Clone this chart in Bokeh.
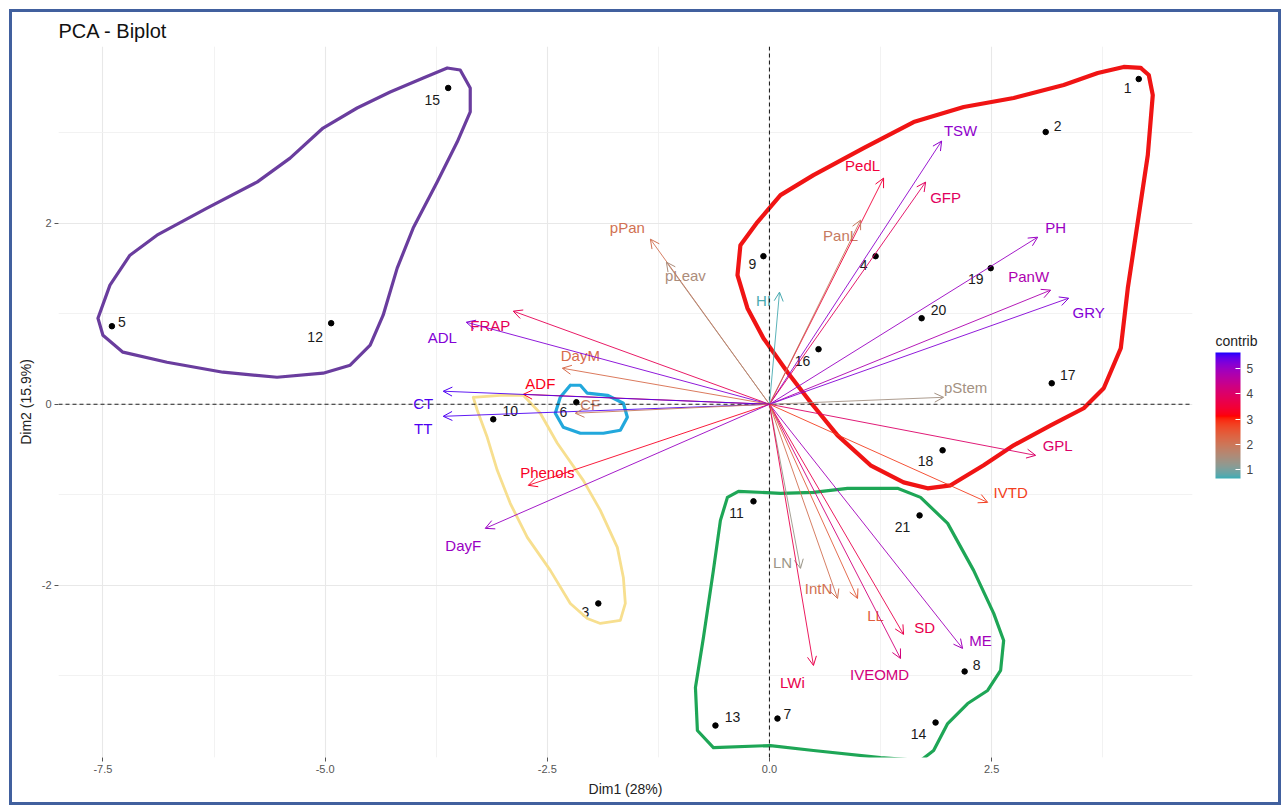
import math
from bokeh.plotting import figure
from bokeh.layouts import column
from bokeh.models import (ColumnDataSource, Arrow, OpenHead, LinearColorMapper, ColorBar,
                          FixedTicker, Span)
from bokeh.transform import transform
from bokeh.core.properties import value
from bokeh.embed import file_html
from bokeh.resources import INLINE

# ---------------- data ----------------
ind_labels = [str(i) for i in range(1, 22)]
ind_dim1 = [4.155, 3.108, -1.926, 1.194, -7.399, -2.173, 0.090, 2.196, -0.068, -3.108, -0.180,
            -4.932, -0.608, 1.869, -3.615, 0.552, 3.176, 1.948, 2.489, 1.712, 1.689]
ind_dim2 = [3.591, 3.006, -2.199, 1.635, 0.862, 0.022, -3.470, -2.950, 1.635, -0.166, -1.072,
            0.895, -3.547, -3.514, 3.492, 0.608, 0.232, -0.508, 1.503, 0.950, -1.227]

var_names = ["TSW", "PedL", "GFP", "PanL", "PH", "PanW", "GRY", "pStem", "GPL", "IVTD", "ME",
             "SD", "IVEOMD", "LL", "IntN", "LN", "LWi", "HI", "pPan", "pLeav", "FRAP", "ADL",
             "DayM", "ADF", "CT", "TT", "CF", "Phenols", "DayF"]
var_dim1 = [1.937, 1.284, 1.757, 1.025, 3.018, 3.164, 3.367, 1.959, 2.995, 2.455, 2.173,
            1.509, 1.475, 0.991, 0.766, 0.349, 0.495, 0.113, -1.340, -1.160, -2.883, -3.412,
            -2.331, -2.770, -3.671, -3.671, -2.185, -2.714, -3.198]
var_dim2 = [2.906, 2.497, 2.453, 2.033, 1.845, 1.260, 1.171, 0.077, -0.564, -1.083, -2.696,
            -2.541, -2.807, -2.144, -2.144, -1.812, -2.884, 1.238, 1.823, 1.569, 1.028, 0.906,
            0.398, 0.110, 0.144, -0.133, -0.099, -0.895, -1.370]
var_contrib = [5.1, 3.5, 3.9, 1.9, 5.0, 4.8, 5.2, 1.4, 4.0, 2.8, 4.9,
               3.7, 4.2, 2.4, 2.1, 1.3, 3.7, 0.7, 2.1, 1.5, 3.8, 5.2,
               2.2, 3.2, 5.5, 5.5, 1.9, 3.3, 5.0]

x_ticks = [-7.5, -5.0, -2.5, 0.0, 2.5]
x_tick_labels = ["-7.5", "-5.0", "-2.5", "0.0", "2.5"]
x_minor = [-6.25, -3.75, -1.25, 1.25, 3.75]
y_ticks = [-2, 0, 2]
y_tick_labels = ["-2", "0", "2"]
y_minor = [-3, -1, 1, 3]
contrib_ticks = [1, 2, 3, 4, 5]
contrib_low, contrib_mid, contrib_high = 0.64, 3.1, 5.64

# hand-drawn cluster outlines (data coordinates)
purple_x = [-7.556, -7.421, -7.196, -6.892, -6.329, -5.766, -5.394, -5.023, -4.640, -4.268, -3.896,
            -3.626, -3.480, -3.367, -3.367, -3.514, -3.739, -4.009, -4.189, -4.347, -4.493, -4.718,
            -5.023, -5.541, -6.149, -6.779, -7.275, -7.500]
purple_y = [0.950, 1.315, 1.646, 1.867, 2.166, 2.453, 2.718, 3.050, 3.271, 3.448, 3.602,
            3.713, 3.691, 3.492, 3.227, 2.895, 2.453, 1.945, 1.503, 0.983, 0.652, 0.431,
            0.343, 0.298, 0.354, 0.464, 0.575, 0.762]
red_x = [4.178, 4.268, 4.313, 4.257, 4.144, 4.032, 3.953, 3.761, 3.536, 3.164, 2.748, 2.410,
         2.038, 1.779, 1.509, 1.137, 0.766, 0.462, 0.203, -0.068, -0.248, -0.360, -0.327, -0.135,
         0.124, 0.495, 1.059, 1.622, 2.185, 2.748, 3.311, 3.694, 3.986]
red_y = [3.713, 3.635, 3.414, 2.751, 2.011, 1.282, 0.619, 0.177, -0.044, -0.232, -0.453, -0.674,
         -0.895, -0.928, -0.862, -0.674, -0.343, 0.022, 0.354, 0.729, 1.061, 1.425, 1.757, 2.011,
         2.309, 2.530, 2.829, 3.116, 3.282, 3.381, 3.525, 3.657, 3.724]
yellow_x = [-3.333, -3.029, -2.770, -2.579, -2.387, -2.095, -1.903, -1.712, -1.644, -1.622,
            -1.678, -1.903, -2.050, -2.241, -2.466, -2.725, -2.917, -3.063, -3.176, -3.288]
yellow_y = [0.077, 0.099, 0.099, -0.099, -0.431, -0.840, -1.171, -1.580, -1.912, -2.199,
            -2.387, -2.420, -2.365, -2.199, -1.834, -1.470, -1.094, -0.729, -0.365, -0.066]
cyan_x = [-2.241, -2.128, -2.050, -1.824, -1.644, -1.599, -1.678, -1.869, -2.128, -2.320,
          -2.410, -2.354]
cyan_y = [0.210, 0.210, 0.122, 0.099, 0.011, -0.144, -0.287, -0.320, -0.320, -0.254,
          -0.099, 0.077]
green_x = [-0.473, -0.349, 0.124, 0.495, 0.878, 1.441, 1.700, 2.005, 2.297, 2.523, 2.635, 2.601,
           2.455, 2.230, 2.005, 1.847, 1.700, 1.250, 0.495, 0.011, -0.631, -0.811, -0.833,
           -0.743, -0.631, -0.552]
green_y = [-1.028, -0.961, -0.983, -0.972, -0.928, -0.928, -1.028, -1.315, -1.834, -2.309,
           -2.608, -2.939, -3.160, -3.304, -3.525, -3.823, -3.934, -3.901, -3.823, -3.768,
           -3.790, -3.602, -3.127, -2.575, -1.834, -1.282]

# ---------------- layout / style (label nudges in screen pixels) ----------------
IND_OFF = {"1": (-11, 9), "2": (12, -6), "3": (-13, 9), "4": (-12, 9), "5": (10, -4),
           "6": (-13, 10), "7": (10, -5), "8": (12, -6), "9": (-11, 8), "10": (17, -8),
           "11": (-17, 12), "12": (-16, 14), "13": (17, -9), "14": (-17, 11), "15": (-16, 12),
           "16": (-16, 12), "17": (16, -8), "18": (-17, 11), "19": (-15, 11), "20": (17, -8),
           "21": (-17, 12)}
VAR_OFF = {"TSW": (19, -11), "PedL": (-21, -13), "GFP": (20, 15), "PanL": (-20, 15),
           "PH": (18, -10), "PanW": (-22, -14), "GRY": (20, 14), "pStem": (22, -10),
           "GPL": (22, -10), "IVTD": (23, -10), "ME": (18, -8), "SD": (21, -7),
           "IVEOMD": (-21, 16), "LL": (18, 17), "IntN": (-19, -10), "LN": (-18, -6),
           "LWi": (-21, 17), "HI": (-16, 8), "pPan": (-23, -12), "pLeav": (19, 13),
           "FRAP": (-23, 14), "ADL": (-24, 15), "DayM": (18, -13), "ADF": (17, -11),
           "CT": (-20, 12), "TT": (-20, 12), "CF": (15, -9), "Phenols": (19, -13),
           "DayF": (-22, 17)}
FONT = "Liberation Sans"


# gradient2-like palette (teal -> red -> blue) interpolated in CIE Lab
def _to_lin(c):
    c = c / 255.0
    return c / 12.92 if c <= 0.04045 else ((c + 0.055) / 1.055) ** 2.4


def _from_lin(c):
    c = 12.92 * c if c <= 0.0031308 else 1.055 * c ** (1 / 2.4) - 0.055
    return max(0, min(255, round(c * 255)))


def hex_to_lab(h):
    r, g, b = (_to_lin(int(h[i:i + 2], 16)) for i in (1, 3, 5))
    X = (0.4124 * r + 0.3576 * g + 0.1805 * b) / 0.95047
    Y = (0.2126 * r + 0.7152 * g + 0.0722 * b)
    Z = (0.0193 * r + 0.1192 * g + 0.9505 * b) / 1.08883
    f = lambda t: t ** (1 / 3) if t > 0.008856 else 7.787 * t + 16 / 116
    fx, fy, fz = f(X), f(Y), f(Z)
    return (116 * fy - 16, 500 * (fx - fy), 200 * (fy - fz))


def lab_to_hex(L, a, b):
    fy = (L + 16) / 116
    fx = fy + a / 500
    fz = fy - b / 200
    inv = lambda t: t ** 3 if t ** 3 > 0.008856 else (t - 16 / 116) / 7.787
    X, Y, Z = inv(fx) * 0.95047, inv(fy), inv(fz) * 1.08883
    r = 3.2406 * X - 1.5372 * Y - 0.4986 * Z
    g = -0.9689 * X + 1.8758 * Y + 0.0415 * Z
    bb = 0.0557 * X - 0.2040 * Y + 1.0570 * Z
    return "#%02x%02x%02x" % tuple(_from_lin(max(0.0, v)) for v in (r, g, bb))


LOW, MID, HIGH = hex_to_lab("#00AFBB"), hex_to_lab("#FF0000"), hex_to_lab("#0000FF")
maxd = max(contrib_mid - contrib_low, contrib_high - contrib_mid)
palette = []
N = 256
for i in range(N):
    v = contrib_low + (contrib_high - contrib_low) * i / (N - 1)
    t = 0.5 + (v - contrib_mid) / (2 * maxd)
    if t <= 0.5:
        u = t / 0.5
        c = [LOW[k] + (MID[k] - LOW[k]) * u for k in range(3)]
    else:
        u = (t - 0.5) / 0.5
        c = [MID[k] + (HIGH[k] - MID[k]) * u for k in range(3)]
    palette.append(lab_to_hex(*c))

mapper = LinearColorMapper(palette=palette, low=contrib_low, high=contrib_high)

# ---------------- figure ----------------
p = figure(width=1266, height=790, x_range=(-8.0, 4.76), y_range=(-3.90, 3.95),
           output_backend="svg", toolbar_location=None,
           min_border_left=46, min_border_right=86, min_border_top=34, min_border_bottom=45,
           background_fill_color="white", border_fill_color="white")
p.outline_line_color = None

p.title.text = "PCA - Biplot"
p.title.text_font = FONT
p.title.text_font_size = "20px"
p.title.text_font_style = "normal"
p.title.text_color = "#111111"
p.title.align = "left"
p.title.offset = 0
p.title.standoff = 9

p.xaxis.ticker = FixedTicker(ticks=x_ticks, minor_ticks=x_minor)
p.yaxis.ticker = FixedTicker(ticks=y_ticks, minor_ticks=y_minor)
p.xaxis.major_label_overrides = {t: l for t, l in zip(x_ticks, x_tick_labels)}
p.yaxis.major_label_overrides = {t: l for t, l in zip(y_ticks, y_tick_labels)}
p.xaxis.axis_label = "Dim1 (28%)"
p.yaxis.axis_label = "Dim2 (15.9%)"
for ax in (p.xaxis, p.yaxis):
    ax.axis_line_color = None
    ax.major_tick_line_color = "#555555"
    ax.major_tick_out = 4
    ax.major_tick_in = 0
    ax.minor_tick_line_color = None
    ax.major_label_text_font = FONT
    ax.major_label_text_font_size = "11px"
    ax.major_label_text_color = "#555555"
    ax.major_label_standoff = 3
    ax.axis_label_text_font = FONT
    ax.axis_label_text_font_size = "14px"
    ax.axis_label_text_font_style = "normal"
    ax.axis_label_text_color = "#222222"
    ax.axis_label_standoff = 5

for g in (p.xgrid, p.ygrid):
    g.grid_line_color = "#e8e8e8"
    g.grid_line_width = 1.1
    g.minor_grid_line_color = "#f0f0f0"
    g.minor_grid_line_width = 0.9

p.add_layout(Span(location=0, dimension="height", line_color="#222222",
                  line_dash="4 3", line_width=1.1))
p.add_layout(Span(location=0, dimension="width", line_color="#222222",
                  line_dash="4 3", line_width=1.1))

# variable arrows
var_src = ColumnDataSource(dict(
    x=var_dim1, y=var_dim2, name=var_names, contrib=var_contrib,
    dx=[VAR_OFF[n][0] for n in var_names], dy=[VAR_OFF[n][1] for n in var_names]))
p.add_layout(Arrow(source=var_src, x_start=0, y_start=0, x_end="x", y_end="y",
                   line_color=transform("contrib", mapper), line_width=0.9,
                   end=OpenHead(size=9, line_width=1.0,
                                line_color=transform("contrib", mapper))))
p.text(x="x", y="y", text="name", source=var_src, x_offset="dx", y_offset="dy",
       text_color=transform("contrib", mapper), text_font=value(FONT),
       text_font_size="15px", text_align="center", text_baseline="middle")

# individuals
ind_src = ColumnDataSource(dict(
    x=ind_dim1, y=ind_dim2, name=ind_labels,
    dx=[IND_OFF[n][0] for n in ind_labels], dy=[IND_OFF[n][1] for n in ind_labels]))
p.scatter(x="x", y="y", source=ind_src, size=5.5, color="black")
p.text(x="x", y="y", text="name", source=ind_src, x_offset="dx", y_offset="dy",
       text_color="#1a1a1a", text_font=value(FONT), text_font_size="14px",
       text_align="center", text_baseline="middle")

# hand-drawn cluster outlines
for xs, ys, col, w in [(purple_x, purple_y, "#6a3d9e", 3.2),
                       (red_x, red_y, "#f01414", 4.2),
                       (yellow_x, yellow_y, "#f7df8f", 2.8),
                       (cyan_x, cyan_y, "#22a8dc", 3.2),
                       (green_x, green_y, "#1ea656", 3.2)]:
    p.line(xs + xs[:1], ys + ys[:1], line_color=col, line_width=w,
           line_join="round", line_cap="round")

# colour bar (placed just right of the panel)
cb = ColorBar(color_mapper=mapper, ticker=FixedTicker(ticks=contrib_ticks),
              orientation="vertical", width=25, height=126, title=None,
              major_label_text_font=FONT, major_label_text_font_size="12px",
              major_label_text_color="#444444", major_tick_line_color="white",
              major_tick_in=5, major_tick_out=0, bar_line_color=None,
              border_line_color=None, background_fill_alpha=0,
              padding=0, margin=0, location=(1157, 279), label_standoff=6)
p.add_layout(cb, "center")

# horizontal legend title "contrib" (carried by a transparent horizontal colour bar)
cb_title = ColorBar(color_mapper=mapper, ticker=FixedTicker(ticks=[]),
                    orientation="horizontal", width=25, height=1, title="contrib",
                    title_text_font=FONT, title_text_font_size="14px",
                    title_text_font_style="normal", title_text_color="#222222",
                    title_standoff=2, scale_alpha=0, bar_line_color=None,
                    major_tick_line_color=None, minor_tick_line_color=None,
                    border_line_color=None, background_fill_alpha=0,
                    padding=0, margin=0, location=(1157, 407))
p.add_layout(cb_title, "center")

page = column(p, styles={"border": "3px solid #41609e", "margin-left": "9px",
                         "margin-top": "9px", "background-color": "white"})

open("out.html", "w").write(file_html(page, INLINE))
